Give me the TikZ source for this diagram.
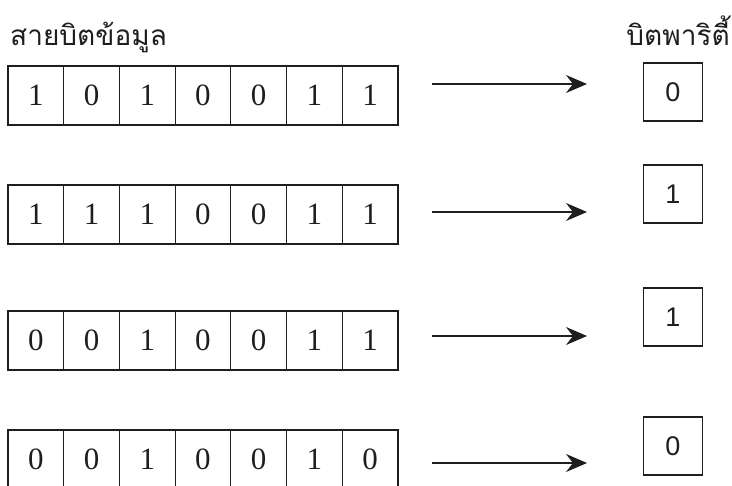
\documentclass[tikz,border=0pt]{standalone}
\usepackage{fontspec}
\setmainfont{Liberation Serif}
\newfontfamily\thaifont[Script=Thai]{Loma}
\newfontfamily\sansdigits{Liberation Sans}
\usetikzlibrary{arrows.meta}
\definecolor{ink}{HTML}{1E1E1E}
\tikzset{
  cell/.style={draw=ink, line width=1.2pt, minimum width=55.7pt, minimum height=59pt, inner sep=0pt, outer sep=0pt,
    font=\fontsize{31}{31}\selectfont, text=ink},
  paritybox/.style={draw=ink, line width=1.3pt, minimum width=59pt, minimum height=58pt, inner sep=0pt,
    font=\sansdigits\fontsize{27}{27}\selectfont, text=ink},
  title/.style={font=\thaifont\fontsize{28}{28}\selectfont, text=ink, inner sep=0pt},
  flow/.style={draw=ink, line width=1.3pt, -{Stealth[length=21pt, width=18pt, inset=7pt]}}
}
\begin{document}
\begin{tikzpicture}[x=1pt, y=-1pt]
\useasboundingbox (0,0) rectangle (732,486);
\node[title, anchor=base west] (t1) at (10,46) {สายบิตข้อมูล};
\node[title, anchor=base east] (t2) at (730,46) {บิตพาริตี้};
% rows
\foreach \r/\top/\bits in {1/66/{1,0,1,0,0,1,1}, 2/185/{1,1,1,0,0,1,1}, 3/311/{0,0,1,0,0,1,1}, 4/430/{0,0,1,0,0,1,0}}{
  \foreach \b [count=\i] in \bits {
    \node[cell] (r\r c\i) at ({8+55.7*(\i-0.5)}, {\top+29.5}) {\b};
  }
}
% parity boxes
\node[paritybox] (p1) at (673,92) {0};
\node[paritybox] (p2) at (673,194) {1};
\node[paritybox] (p3) at (673,317) {1};
\node[paritybox] (p4) at (673,446) {0};
% arrows
\foreach \r/\y in {1/84, 2/212, 3/336, 4/463}{
  \coordinate (s\r) at (432,\y);
  \coordinate (e\r) at (587,\y);
  \draw[flow] (s\r) -- (e\r);
}
\end{tikzpicture}
\end{document}
